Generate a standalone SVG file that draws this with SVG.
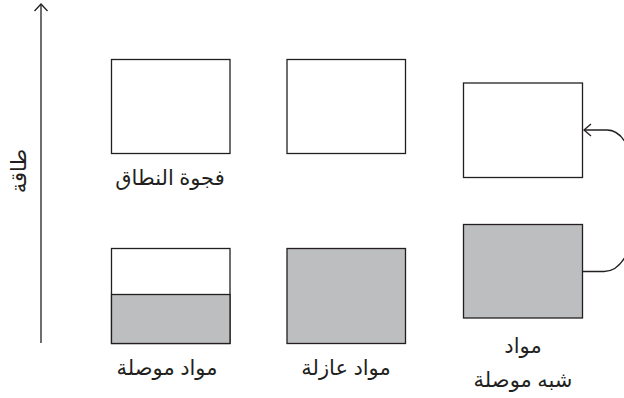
<svg xmlns="http://www.w3.org/2000/svg" width="624" height="398" viewBox="0 0 624 398">
<style>
.box{stroke:#231f20;stroke-width:1.3;fill:#fff}
.gray{fill:#bcbec0}
.line{stroke:#231f20;stroke-width:1.3;fill:none}
text{font-family:"Noto Sans","DejaVu Sans",sans-serif;font-size:21px;fill:#231f20;text-anchor:middle;direction:rtl}
</style>
<defs>
<marker id="arr" viewBox="0 0 12 14" refX="10" refY="7" markerWidth="12" markerHeight="14" markerUnits="userSpaceOnUse" orient="auto">
<path d="M3,1 L10,7 L3,13" fill="none" stroke="#231f20" stroke-width="1.3"/>
</marker>
</defs>
<g id="axis">
<line class="line" x1="41" y1="343" x2="41" y2="4"/>
<path class="line" d="M34.5,11 L41,4 L47.5,11"/>
<text transform="translate(19,171) rotate(-90)" dy="7">طاقة</text>
</g>
<g id="conductor">
<rect class="box" x="111.5" y="59.5" width="118.5" height="94"/>
<text x="170" y="185">فجوة النطاق</text>
<rect class="box" x="111.5" y="248.5" width="118.5" height="95"/>
<rect class="box gray" x="111.5" y="294.5" width="118.5" height="49"/>
<text x="167" y="375">مواد موصلة</text>
</g>
<g id="insulator">
<rect class="box" x="287" y="59.5" width="118.5" height="94"/>
<rect class="box gray" x="287" y="248.5" width="118.5" height="95"/>
<text x="346" y="375">مواد عازلة</text>
</g>
<g id="semiconductor">
<rect class="box" x="463.5" y="83" width="119" height="94.5"/>
<rect class="box gray" x="463.5" y="224.5" width="119" height="93.5"/>
<text x="523" y="353">مواد</text>
<text x="523" y="387">شبه موصلة</text>
</g>
<g id="connectors">
<path class="line" d="M583,271.5 H604 C648,271.5 648,130 607,130 H584" marker-end="url(#arr)"/>
</g>
</svg>
